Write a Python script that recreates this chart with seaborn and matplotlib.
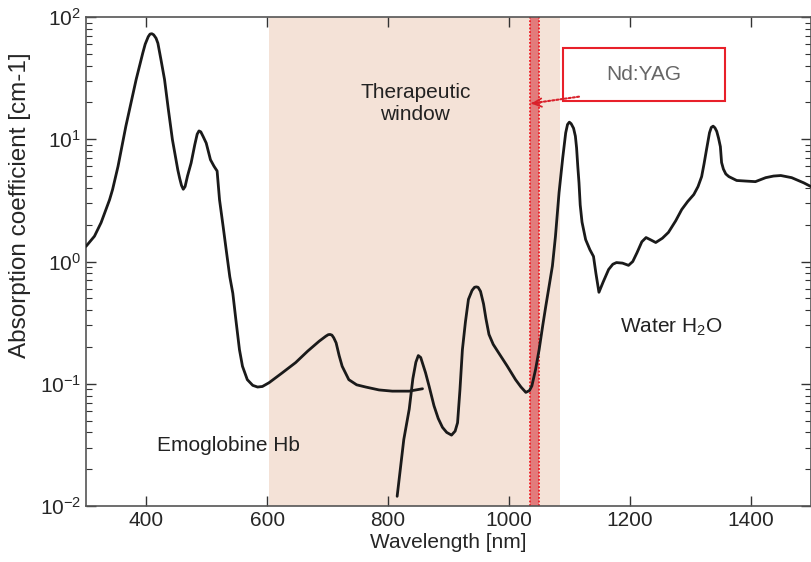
import numpy as np
import pandas as pd
import matplotlib
matplotlib.use('Agg')
import matplotlib.pyplot as plt
import seaborn as sns
from matplotlib.patches import Rectangle

# Hemoglobin absorption curve
hb_nm = [300, 314, 325, 333, 339, 344, 353, 366, 383, 394, 398, 403, 406, 409,
         412, 416, 419, 424, 430, 436, 443, 452, 455, 458, 461, 464, 468, 474,
         480, 484, 487, 490, 494, 499, 506, 512, 517, 521, 527, 532, 538, 543,
         548, 554, 559, 567, 576, 584, 592, 603, 625, 647, 667, 686, 697, 701,
         704, 707, 710, 714, 719, 724, 735, 748, 763, 785, 807, 835, 857]
hb_abs = [1.33, 1.61, 2.08, 2.66, 3.2, 3.88, 6.0, 12.8, 30.8, 50.8, 60, 69, 72.5,
          73, 71.5, 67, 61, 45, 30.8, 18, 9.95, 5.6, 4.8, 4.2, 3.9, 4.1, 5.0, 6.4,
          9.0, 11.0, 11.7, 11.5, 10.5, 9.3, 6.8, 6.0, 5.5, 3.2, 1.93, 1.25, 0.75,
          0.55, 0.336, 0.19, 0.139, 0.108, 0.097, 0.094, 0.095, 0.102, 0.123,
          0.149, 0.185, 0.223, 0.245, 0.252, 0.253, 0.25, 0.238, 0.216, 0.17,
          0.139, 0.108, 0.098, 0.094, 0.089, 0.087, 0.087, 0.091]

# Water absorption curve
water_nm = [815, 826, 835, 841, 846, 850, 854, 862, 868, 876, 883, 890, 897, 905,
            911, 915, 919, 923, 928, 933, 939, 943, 946, 949, 953, 958, 962, 967,
            974, 983, 997, 1011, 1020, 1028, 1034, 1038, 1044, 1050, 1056, 1061,
            1067, 1072, 1077, 1083, 1089, 1094, 1097, 1100, 1103, 1107, 1110, 1112,
            1114, 1116, 1118, 1121, 1127, 1134, 1140, 1144, 1149, 1156, 1165, 1172,
            1178, 1188, 1198, 1205, 1212, 1220, 1227, 1235, 1243, 1254, 1264, 1276,
            1286, 1296, 1306, 1313, 1319, 1323, 1327, 1332, 1335, 1338, 1341, 1344,
            1347, 1350, 1352, 1355, 1359, 1364, 1377, 1392, 1408, 1425, 1438, 1450,
            1468, 1488, 1500]
water_abs = [0.012, 0.035, 0.062, 0.11, 0.15, 0.17, 0.164, 0.123, 0.095, 0.066,
             0.052, 0.044, 0.040, 0.038, 0.041, 0.048, 0.09, 0.19, 0.32, 0.49, 0.58,
             0.615, 0.62, 0.615, 0.57, 0.45, 0.34, 0.253, 0.21, 0.179, 0.14, 0.108,
             0.094, 0.085, 0.088, 0.096, 0.13, 0.19, 0.30, 0.43, 0.65, 0.92, 1.6,
             3.67, 7.0, 11.3, 13.2, 13.8, 13.4, 12.3, 10.6, 8.5, 6.0, 4.4, 2.9, 2.1,
             1.51, 1.25, 1.1, 0.8, 0.56, 0.68, 0.86, 0.95, 0.98, 0.97, 0.93, 1.0,
             1.18, 1.45, 1.57, 1.5, 1.43, 1.55, 1.73, 2.15, 2.66, 3.1, 3.53, 4.1,
             4.95, 6.3, 8.2, 11.3, 12.5, 12.8, 12.4, 11.6, 10.2, 8.7, 6.45, 5.7, 5.2,
             4.95, 4.6, 4.55, 4.5, 4.85, 5.0, 5.05, 4.85, 4.4, 4.1]

window = (603, 1084)
laser_band = (1035, 1050)

hb = pd.DataFrame({'nm': hb_nm, 'abs': hb_abs})
water = pd.DataFrame({'nm': water_nm, 'abs': water_abs})

sns.set_style('ticks')
plt.rcParams['font.family'] = ['Liberation Sans', 'DejaVu Sans']
plt.rcParams['mathtext.default'] = 'regular'

fig = plt.figure(figsize=(8.12, 5.62), dpi=100)
ax = fig.add_axes([86 / 812, 56 / 562, 725 / 812, 489 / 562])

# therapeutic window and laser line
ax.axvspan(*window, color='#f4e2d7', lw=0, zorder=0)
ax.axvspan(*laser_band, color='#e27b7b', lw=0, zorder=1)
for x in laser_band:
    ax.axvline(x, color='#ee1c24', ls=(0, (1, 1)), lw=1.3, zorder=2)

line_kw = dict(color='#1a1a1a', lw=2.0, sort=False, estimator=None, zorder=3,
               solid_joinstyle='round', solid_capstyle='round')
sns.lineplot(data=hb, x='nm', y='abs', ax=ax, **line_kw)
sns.lineplot(data=water, x='nm', y='abs', ax=ax, **line_kw)

ax.set_yscale('log')
ax.set_xlim(300, 1500)
ax.set_ylim(1e-2, 1e2)
ax.set_xticks([400, 600, 800, 1000, 1200, 1400])
ax.set_xlabel('Wavelength [nm]', fontsize=15, labelpad=2)
ax.set_ylabel('Absorption coefficient [cm-1]', fontsize=17.5)
ax.yaxis.set_label_coords(-0.076, 0.616)

ax.tick_params(which='both', direction='in', top=True, right=True,
               color='#333333', labelsize=15)
ax.tick_params(which='major', length=7, width=1)
ax.tick_params(which='minor', length=4, width=0.8)
ax.tick_params(axis='x', which='minor', bottom=False, top=False)
for s in ax.spines.values():
    s.set_color('#555555')
    s.set_linewidth(1.2)

ax.text(845, 19.6, 'Therapeutic\nwindow', ha='center', va='center',
        fontsize=15, color='#222222', linespacing=1.15)
ax.text(535, 0.031, 'Emoglobine Hb', ha='center', va='center',
        fontsize=15, color='#222222')
ax.text(1269, 0.29, 'Water H$_2$O', ha='center', va='center',
        fontsize=15, color='#222222')

# Nd:YAG label box and arrow
ax.add_patch(Rectangle((0.658, 0.828), 0.223, 0.109, transform=ax.transAxes,
                       fill=True, facecolor='white', edgecolor='#e8202a',
                       lw=1.5, zorder=4))
ax.text(0.7695, 0.882, 'Nd:YAG', transform=ax.transAxes, ha='center',
        va='center', fontsize=15, color='#666666', zorder=5)
ax.annotate('', xy=(1039, 19.7), xytext=(1116, 22.3),
            arrowprops=dict(arrowstyle='-', color='#d9202a', ls=(0, (1, 1)),
                            lw=1.5, shrinkA=0, shrinkB=0), zorder=5)
ax.annotate('', xy=(1037, 19.6), xytext=(1052, 19.9),
            arrowprops=dict(arrowstyle='->,head_length=0.6,head_width=0.3',
                            color='#d9202a', lw=1.3, shrinkA=0, shrinkB=0),
            zorder=5)

fig.savefig('out.png', dpi=100)
